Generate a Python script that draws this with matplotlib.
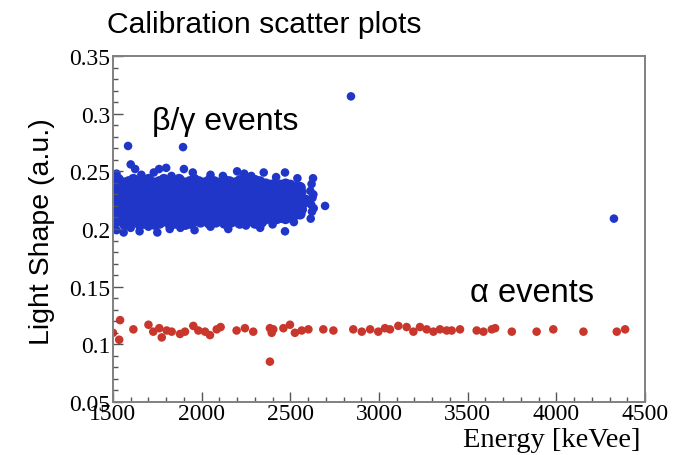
import matplotlib
matplotlib.use("Agg")
import matplotlib.pyplot as plt
import matplotlib.ticker as mtick
import numpy as np

# beta/gamma band: dense core, written column by column (7 points per line)
beta_energy = [
    1505, 1499, 1509, 1502, 1507, 1497, 1503,
    1529, 1537, 1531, 1539, 1527, 1534, 1530,
    1566, 1559, 1562, 1555, 1564, 1561, 1557,
    1590, 1584, 1594, 1587, 1592, 1582, 1588,
    1614, 1622, 1616, 1624, 1612, 1619, 1615,
    1651, 1644, 1647, 1640, 1649, 1646, 1642,
    1676, 1670, 1680, 1673, 1678, 1668, 1674,
    1700, 1708, 1702, 1710, 1698, 1705, 1701,
    1736, 1729, 1732, 1725, 1734, 1731, 1727,
    1762, 1756, 1766, 1759, 1764, 1754, 1760,
    1786, 1794, 1788, 1796, 1784, 1791, 1787,
    1822, 1815, 1818, 1811, 1820, 1817, 1813,
    1848, 1842, 1852, 1845, 1850, 1840, 1846,
    1872, 1880, 1874, 1882, 1870, 1877, 1873,
    1908, 1901, 1904, 1897, 1906, 1903, 1899,
    1934, 1928, 1938, 1931, 1936, 1926, 1932,
    1957, 1965, 1959, 1967, 1955, 1962, 1958,
    1994, 1987, 1990, 1983, 1992, 1989, 1985,
    2020, 2014, 2024, 2017, 2022, 2012, 2018,
    2043, 2051, 2045, 2053, 2041, 2048, 2044,
    2080, 2073, 2076, 2069, 2078, 2075, 2071,
    2106, 2100, 2110, 2103, 2108, 2098, 2104,
    2129, 2137, 2131, 2139, 2127, 2134, 2130,
    2166, 2159, 2162, 2155, 2164, 2161, 2157,
    2192, 2186, 2196, 2189, 2194, 2184, 2190,
    2215, 2223, 2217, 2225, 2213, 2220, 2216,
    2252, 2245, 2248, 2241, 2250, 2247, 2243,
    2278, 2272, 2282, 2275, 2280, 2270, 2276,
    2301, 2309, 2303, 2311, 2299, 2306, 2302,
    2338, 2331, 2334, 2327, 2336, 2333, 2329,
    2364, 2358, 2368, 2361, 2366, 2356, 2362,
    2387, 2395, 2389, 2397, 2385, 2392, 2388,
    2424, 2417, 2420, 2413, 2422, 2419, 2415,
    2450, 2444, 2454, 2447, 2452, 2442, 2448,
    2473, 2481, 2475, 2483, 2471, 2478, 2474,
    2510, 2503, 2506, 2499, 2508, 2505, 2501,
    2535, 2529, 2539, 2532, 2537, 2527, 2533,
    2555, 2563, 2557, 2565, 2553, 2560, 2556,
]
beta_shape = [
    0.205, 0.212, 0.217, 0.224, 0.229, 0.236, 0.241,
    0.207, 0.211, 0.219, 0.222, 0.231, 0.234, 0.243,
    0.204, 0.213, 0.216, 0.225, 0.228, 0.237, 0.240,
    0.205, 0.212, 0.217, 0.224, 0.229, 0.236, 0.241,
    0.207, 0.211, 0.219, 0.222, 0.231, 0.234, 0.243,
    0.204, 0.213, 0.216, 0.225, 0.228, 0.237, 0.240,
    0.205, 0.212, 0.217, 0.224, 0.229, 0.236, 0.241,
    0.207, 0.211, 0.219, 0.222, 0.231, 0.234, 0.243,
    0.204, 0.213, 0.216, 0.225, 0.228, 0.237, 0.240,
    0.205, 0.212, 0.217, 0.224, 0.229, 0.236, 0.241,
    0.207, 0.211, 0.219, 0.222, 0.231, 0.234, 0.243,
    0.204, 0.213, 0.216, 0.225, 0.228, 0.237, 0.240,
    0.205, 0.212, 0.217, 0.224, 0.229, 0.236, 0.241,
    0.207, 0.211, 0.219, 0.222, 0.231, 0.234, 0.243,
    0.204, 0.213, 0.216, 0.225, 0.228, 0.237, 0.240,
    0.205, 0.212, 0.217, 0.224, 0.229, 0.236, 0.241,
    0.207, 0.211, 0.219, 0.222, 0.231, 0.234, 0.243,
    0.206, 0.212, 0.218, 0.224, 0.230, 0.235, 0.241,
    0.208, 0.211, 0.220, 0.223, 0.229, 0.237, 0.240,
    0.205, 0.214, 0.217, 0.225, 0.231, 0.234, 0.242,
    0.206, 0.212, 0.218, 0.224, 0.230, 0.235, 0.241,
    0.208, 0.211, 0.220, 0.223, 0.229, 0.237, 0.240,
    0.205, 0.214, 0.217, 0.225, 0.231, 0.234, 0.242,
    0.206, 0.212, 0.218, 0.224, 0.230, 0.235, 0.241,
    0.208, 0.211, 0.220, 0.223, 0.229, 0.237, 0.240,
    0.205, 0.214, 0.217, 0.225, 0.231, 0.234, 0.242,
    0.206, 0.212, 0.218, 0.224, 0.230, 0.235, 0.241,
    0.208, 0.211, 0.220, 0.223, 0.229, 0.237, 0.240,
    0.205, 0.214, 0.217, 0.225, 0.231, 0.234, 0.242,
    0.206, 0.212, 0.218, 0.224, 0.230, 0.235, 0.241,
    0.209, 0.214, 0.219, 0.224, 0.229, 0.234, 0.239,
    0.210, 0.215, 0.220, 0.223, 0.230, 0.233, 0.238,
    0.209, 0.214, 0.219, 0.224, 0.229, 0.234, 0.239,
    0.210, 0.215, 0.220, 0.223, 0.230, 0.233, 0.238,
    0.209, 0.214, 0.219, 0.224, 0.229, 0.234, 0.239,
    0.210, 0.215, 0.220, 0.223, 0.230, 0.233, 0.238,
    0.213, 0.217, 0.221, 0.225, 0.229, 0.232, 0.236,
    0.213, 0.217, 0.221, 0.225, 0.229, 0.232, 0.236,
]

# scattered beta/gamma events around the band, the end strip and outliers
beta_extra_energy = [
    1520, 1585, 1600, 1625, 1660, 1730, 1760, 1800, 1830, 1895, 1900,
    1950, 2050, 2120, 2200, 2240, 2280, 2350, 2420, 2470, 2540,
    1520, 1560, 1600, 1650, 1700, 1750, 1820, 1880, 1960, 2050, 2150,
    2250, 2330, 2400, 2470, 2520,
    2580, 2590, 2615, 2622, 2618, 2625, 2613, 2620, 2628, 2632, 2630,
    2696, 2842, 4325,
]
beta_extra_shape = [
    0.248, 0.272, 0.256, 0.252, 0.247, 0.249, 0.252, 0.253, 0.246, 0.271, 0.252,
    0.249, 0.247, 0.246, 0.250, 0.248, 0.246, 0.249, 0.245, 0.249, 0.244,
    0.199, 0.197, 0.201, 0.198, 0.202, 0.197, 0.200, 0.201, 0.199, 0.202, 0.200,
    0.203, 0.201, 0.204, 0.198, 0.206,
    0.222, 0.226, 0.209, 0.215, 0.221, 0.227, 0.233, 0.239, 0.244, 0.218, 0.230,
    0.220, 0.315, 0.209,
]

# alpha events
alpha_energy = [
    1500, 1540, 1535, 1615, 1700, 1727, 1761, 1775, 1803, 1831, 1878,
    1906, 1953, 1981, 2019, 2047, 2085, 2107, 2197, 2244, 2291, 2385,
    2395, 2385, 2404, 2461, 2498, 2526, 2564, 2602, 2686, 2743, 2855,
    2903, 2950, 2996, 3034, 3062, 3109, 3156, 3194, 3231, 3269, 3307,
    3344, 3382, 3410, 3457, 3551, 3589, 3636, 3655, 3749, 3889, 3983,
    4153, 4341, 4388,
]
alpha_shape = [
    0.110, 0.121, 0.104, 0.113, 0.117, 0.111, 0.114, 0.106, 0.112, 0.111, 0.109,
    0.111, 0.116, 0.112, 0.111, 0.108, 0.113, 0.115, 0.112, 0.114, 0.111, 0.114,
    0.110, 0.085, 0.113, 0.114, 0.117, 0.110, 0.112, 0.113, 0.113, 0.112, 0.113,
    0.111, 0.113, 0.111, 0.114, 0.113, 0.116, 0.115, 0.111, 0.115, 0.113, 0.111,
    0.113, 0.112, 0.112, 0.113, 0.112, 0.111, 0.113, 0.114, 0.111, 0.111, 0.113,
    0.111, 0.111, 0.113,
]

x_ticks = [1500, 2000, 2500, 3000, 3500, 4000, 4500]
y_ticks = [0.05, 0.1, 0.15, 0.2, 0.25, 0.3, 0.35]

BLUE = "#1f36c9"
RED = "#c9372c"
SERIF = ["Liberation Serif", "DejaVu Serif"]
SANS = ["Liberation Sans", "DejaVu Sans"]

fig = plt.figure(figsize=(6.86, 4.56), dpi=100)
ax = fig.add_axes([0.1647, 0.1162, 0.7755, 0.7588])

ax.scatter(beta_energy, beta_shape, s=64, c=BLUE, edgecolors="none")
ax.scatter(beta_extra_energy, beta_extra_shape, s=38, c=BLUE, edgecolors="none")
ax.scatter(alpha_energy, alpha_shape, s=38, c=RED, edgecolors="none")

ax.set_xlim(1500, 4500)
ax.set_ylim(0.05, 0.35)
ax.set_xticks(x_ticks)
ax.set_yticks(y_ticks)
ax.yaxis.set_major_formatter(mtick.FuncFormatter(lambda v, _: f"{v:g}"))
ax.xaxis.set_minor_locator(mtick.MultipleLocator(100))
ax.yaxis.set_minor_locator(mtick.MultipleLocator(0.01))
ax.tick_params(which="both", direction="in", color="#555555", width=1.0)
ax.tick_params(which="major", length=7, labelsize=17, pad=2)
ax.tick_params(which="minor", length=3.5)
ax.tick_params(axis="x", pad=1)
for lab in ax.get_xticklabels() + ax.get_yticklabels():
    lab.set_family(SERIF)
for sp in ax.spines.values():
    sp.set_color("#808080")
    sp.set_linewidth(1.4)

ax.text(1720, 0.2935, "β/γ events", fontsize=23, family=SANS, va="center")
ax.text(3514, 0.145, "α events", fontsize=23.5, family=SANS, va="center")

fig.text(0.156, 0.945, "Calibration scatter plots", fontsize=21.7,
         family=SANS, va="center")
fig.text(0.061, 0.491, "Light Shape (a.u.)", fontsize=20.5, family=SANS,
         rotation=90, va="center", ha="center")
fig.text(0.933, 0.034, "Energy [keVee]", fontsize=20.5, family=SERIF,
         ha="right", va="center")

fig.savefig("out.png", dpi=100)
